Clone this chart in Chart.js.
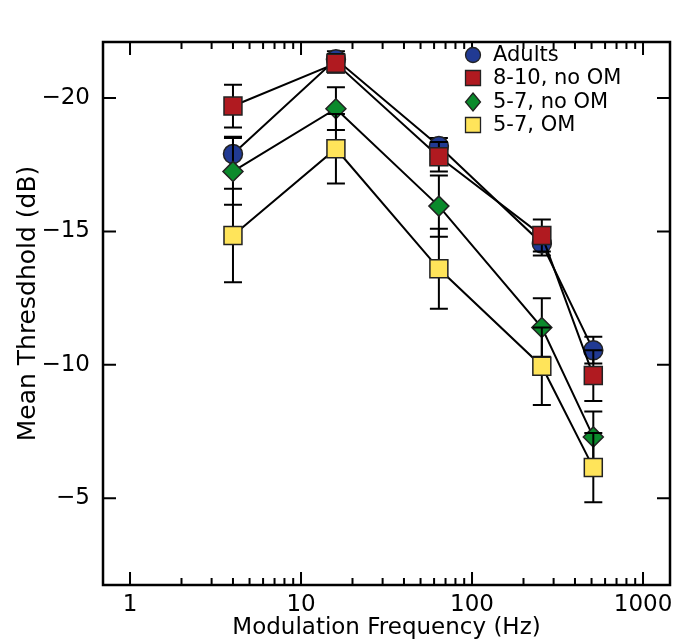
<!DOCTYPE html>
<html>
<head>
<meta charset="utf-8">
<script src="https://cdn.jsdelivr.net/npm/chart.js@4.4.0/dist/chart.umd.min.js"></script>
<style>
  html, body { margin: 0; padding: 0; background: #fff; }
  #wrap { width: 688px; height: 644px; }
</style>
</head>
<body>
<div id="wrap"><canvas id="thresholdChart" width="688" height="644"></canvas></div>
<script>
// modulation frequencies (Hz)
const freqs = [4, 16, 64, 256, 512];
const groupNames = ['Adults', '8-10, no OM', '5-7, no OM', '5-7, OM'];

// mean thresholds (dB) and error bar half-lengths
const adults = [-17.9, -21.45, -18.2, -14.55, -10.55];
const adultsErr = [0.65, 0.3, 0.3, 0.45, 0.5];
const kids810 = [-19.7, -21.3, -17.8, -14.85, -9.6];
const kids810Err = [0.8, 0.35, 0.55, 0.6, 0.95];
const kids57 = [-17.25, -19.6, -15.95, -11.4, -7.3];
const kids57Err = [1.25, 0.8, 1.15, 1.1, 0.95];
const kids57om = [-14.85, -18.1, -13.6, -9.95, -6.15];
const kids57omErr = [1.75, 1.3, 1.5, 1.45, 1.3];

const xLabelTicks = [1, 10, 100, 1000];
const yLabelTicks = [-20, -15, -10, -5];
const yTitle = 'Mean Thresdhold (dB)';

const FONT = '"DejaVu Sans", sans-serif';

function pts(vals) {
  return vals.map((v, i) => ({x: freqs[i], y: v}));
}

// error bars go under each dataset's own line + markers
const errorBars = {
  id: 'errorBars',
  beforeDatasetDraw(chart, args) {
    const ds = chart.data.datasets[args.index];
    const yScale = chart.scales.y;
    const ctx = chart.ctx;
    ctx.save();
    ctx.strokeStyle = '#000';
    ctx.lineWidth = 2;
    ctx.beginPath();
    args.meta.data.forEach((p, i) => {
      const v = ds.data[i].y;
      const e = ds.errors[i];
      const y1 = yScale.getPixelForValue(v - e);
      const y2 = yScale.getPixelForValue(v + e);
      ctx.moveTo(p.x, y1); ctx.lineTo(p.x, y2);
      ctx.moveTo(p.x - 9, y1); ctx.lineTo(p.x + 9, y1);
      ctx.moveTo(p.x - 9, y2); ctx.lineTo(p.x + 9, y2);
    });
    ctx.stroke();
    ctx.restore();
  }
};

// box frame with inward ticks on all four sides, plus the y title
const chartFrame = {
  id: 'chartFrame',
  afterDraw(chart) {
    const {ctx, chartArea: {left, top, right, bottom}, scales: {x, y}} = chart;
    ctx.save();
    ctx.strokeStyle = '#000';
    ctx.lineWidth = 2;
    ctx.beginPath();
    for (let dec = 1; dec <= 1000; dec *= 10) {
      for (let m = 1; m <= 9; m++) {
        const v = dec * m;
        if (v > 1000) break;
        const px = x.getPixelForValue(v);
        const len = m === 1 ? 13 : 7;
        ctx.moveTo(px, bottom); ctx.lineTo(px, bottom - len);
        ctx.moveTo(px, top); ctx.lineTo(px, top + len);
      }
    }
    yLabelTicks.forEach(v => {
      const py = y.getPixelForValue(v);
      ctx.moveTo(left, py); ctx.lineTo(left + 13, py);
      ctx.moveTo(right, py); ctx.lineTo(right - 13, py);
    });
    ctx.stroke();
    ctx.lineWidth = 2.5;
    ctx.strokeRect(left, top, right - left, bottom - top);

    // y title sits a bit below the middle of the plot in the original
    ctx.translate(28, y.getPixelForValue(-12.3));
    ctx.rotate(-Math.PI / 2);
    ctx.font = '25px ' + FONT;
    ctx.fillStyle = '#000';
    ctx.textAlign = 'center';
    ctx.textBaseline = 'middle';
    ctx.fillText(yTitle, 0, 0);
    ctx.restore();
  }
};

function drawMarker(ctx, style, x, y, r) {
  ctx.beginPath();
  if (style === 'circle') {
    ctx.arc(x, y, r, 0, Math.PI * 2);
  } else if (style === 'rect') {
    ctx.rect(x - r, y - r, 2 * r, 2 * r);
  } else {
    ctx.moveTo(x, y - r * 1.2); ctx.lineTo(x + r, y); ctx.lineTo(x, y + r * 1.2); ctx.lineTo(x - r, y);
    ctx.closePath();
  }
  ctx.fill();
  ctx.stroke();
}

const insideLegend = {
  id: 'insideLegend',
  afterDraw(chart) {
    const ctx = chart.ctx;
    ctx.save();
    ctx.font = '21px ' + FONT;
    ctx.textBaseline = 'middle';
    ctx.fillStyle = '#000';
    const rows = [55, 78, 102, 125];
    chart.data.datasets.forEach((ds, i) => {
      ctx.fillStyle = ds.pointBackgroundColor;
      ctx.strokeStyle = '#222';
      ctx.lineWidth = 1.3;
      drawMarker(ctx, ds.pointStyle === 'rectRot' ? 'diamond' : ds.pointStyle, 473, rows[i], 7.5);
      ctx.fillStyle = '#000';
      ctx.fillText(ds.label, 493, rows[i] + 1);
    });
    ctx.restore();
  }
};

function series(label, vals, errs, color, style, radius, order) {
  return {
    label: label,
    data: pts(vals),
    errors: errs,
    borderColor: '#000',
    borderWidth: 2,
    pointStyle: style,
    pointRadius: radius,
    pointHoverRadius: radius,
    pointBackgroundColor: color,
    pointBorderColor: '#222',
    pointBorderWidth: 1.5,
    tension: 0,
    fill: false,
    order: order
  };
}

const data = {
  datasets: [
    series(groupNames[0], adults, adultsErr, '#213a93', 'circle', 9.5, 4),
    series(groupNames[1], kids810, kids810Err, '#b01a20', 'rect', 12.7, 3),
    series(groupNames[2], kids57, kids57Err, '#0b8a2c', 'rectRot', 10, 2),
    series(groupNames[3], kids57om, kids57omErr, '#ffe45a', 'rect', 12.7, 1)
  ]
};

const config = {
  type: 'line',
  data: data,
  options: {
    responsive: false,
    animation: false,
    layout: {padding: {top: 42, right: 18, left: 0, bottom: 0}},
    plugins: {legend: {display: false}, tooltip: {enabled: false}},
    scales: {
      x: {
        type: 'logarithmic',
        min: 0.695,
        max: 1438,
        grid: {display: false, drawTicks: false},
        border: {display: false},
        afterBuildTicks: axis => { axis.ticks = xLabelTicks.map(v => ({value: v})); },
        afterFit: axis => { axis.height = 59; },
        ticks: {
          color: '#000', padding: 6, maxRotation: 0, autoSkip: false,
          font: {family: FONT, size: 23},
          callback: v => String(v)
        },
        title: {display: true, text: 'Modulation Frequency (Hz)', color: '#000',
          font: {family: FONT, size: 23}, padding: {top: 0, bottom: 2}}
      },
      y: {
        type: 'linear',
        reverse: true,
        min: -22.1,
        max: -1.75,
        grid: {display: false, drawTicks: false},
        border: {display: false},
        afterBuildTicks: axis => { axis.ticks = yLabelTicks.map(v => ({value: v})); },
        afterFit: axis => { axis.width = 103; },
        ticks: {
          color: '#000', padding: 13,
          font: {family: FONT, size: 23},
          callback: v => String(v).replace('-', '\u2212')
        }
      }
    }
  },
  plugins: [errorBars, chartFrame, insideLegend]
};

const thresholdChart = new Chart(document.getElementById('thresholdChart'), config);
</script>
</body>
</html>
